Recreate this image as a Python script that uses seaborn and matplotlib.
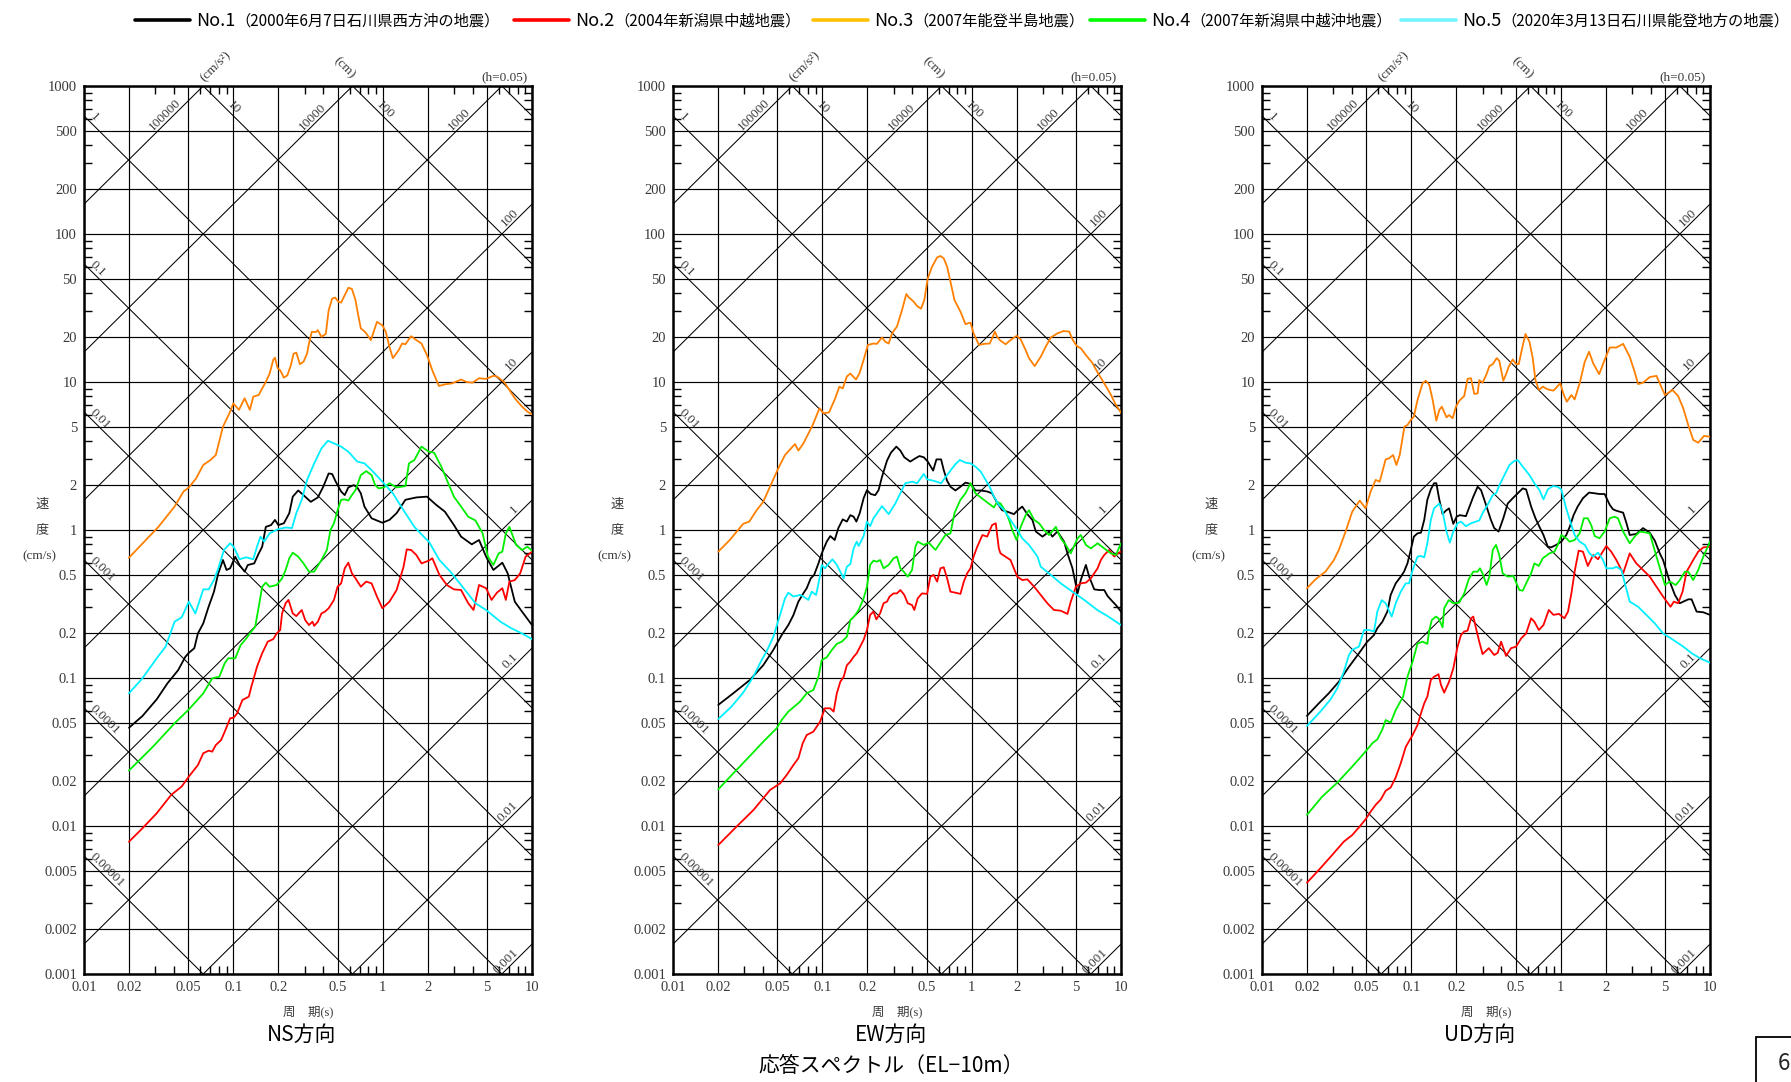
import numpy as np
import pandas as pd
import matplotlib
matplotlib.use("Agg")
import matplotlib.pyplot as plt
import seaborn as sns
from matplotlib.lines import Line2D
from matplotlib.patches import Rectangle
from matplotlib.ticker import FixedLocator, FixedFormatter, NullFormatter

# ---------------------------------------------------------------------------
# Response spectra (period [s], pseudo velocity [cm/s]), h = 0.05
# ---------------------------------------------------------------------------
EVENTS = ["No.1", "No.2", "No.3", "No.4", "No.5"]
EVENT_NOTES = ["（2000年6月7日石川県西方沖の地震）", "（2004年新潟県中越地震）",
               "（2007年能登半島地震）", "（2007年新潟県中越沖地震）",
               "（2020年3月13日石川県能登地方の地震）"]
CURVE_COLORS = ["#000000", "#ff0000", "#ff8000", "#00ee00", "#00f0ff"]
LEGEND_COLORS = ["#000000", "#ff0000", "#ffc000", "#00ff00", "#70f4ff"]

NS_NO1 = [(0.02, 0.0461), (0.0246, 0.0553), (0.0307, 0.0718), (0.0362, 0.092), (0.0427, 0.113),
          (0.0477, 0.139), (0.0504, 0.148), (0.0548, 0.159), (0.0579, 0.200), (0.0629, 0.234),
          (0.0683, 0.303), (0.0742, 0.383), (0.0793, 0.510), (0.0852, 0.627), (0.090, 0.537),
          (0.0952, 0.551), (0.103, 0.660), (0.110, 0.580), (0.119, 0.523), (0.125, 0.580),
          (0.138, 0.595), (0.148, 0.695), (0.156, 0.771), (0.165, 1.05), (0.179, 1.08),
          (0.190, 1.17), (0.200, 1.08), (0.218, 1.11), (0.237, 1.30), (0.250, 1.68),
          (0.272, 1.85), (0.295, 1.72), (0.330, 1.55), (0.368, 1.66), (0.400, 1.96),
          (0.435, 2.41), (0.459, 2.39), (0.485, 2.12), (0.527, 1.82), (0.557, 1.72),
          (0.589, 1.94), (0.640, 2.01), (0.676, 1.94), (0.714, 1.77), (0.755, 1.44),
          (0.843, 1.20), (0.995, 1.12), (1.11, 1.17), (1.24, 1.30), (1.42, 1.60),
          (1.68, 1.66), (1.98, 1.68), (2.28, 1.48), (2.61, 1.33), (3.00, 1.08),
          (3.35, 0.902), (3.95, 0.800), (4.42, 0.856), (4.93, 0.660), (5.51, 0.537),
          (6.33, 0.601), (6.87, 0.510), (7.67, 0.328), (8.57, 0.281), (10.0, 0.228)]
NS_NO2 = [(0.02, 0.00783), (0.0246, 0.00964), (0.0307, 0.0122), (0.0383, 0.0162), (0.0451, 0.0185),
          (0.0504, 0.0216), (0.0579, 0.0258), (0.0629, 0.0310), (0.0683, 0.0323), (0.0722, 0.0318),
          (0.0763, 0.0352), (0.0828, 0.0381), (0.0876, 0.0434), (0.0952, 0.0534), (0.1005, 0.0539),
          (0.106, 0.0577), (0.115, 0.0710), (0.127, 0.0748), (0.132, 0.0874), (0.136, 0.0968),
          (0.144, 0.119), (0.156, 0.147), (0.170, 0.176), (0.185, 0.183), (0.195, 0.200),
          (0.206, 0.211), (0.212, 0.273), (0.224, 0.320), (0.234, 0.337), (0.250, 0.273),
          (0.264, 0.262), (0.287, 0.288), (0.303, 0.246), (0.321, 0.228), (0.339, 0.240),
          (0.348, 0.225), (0.368, 0.240), (0.389, 0.273), (0.411, 0.281), (0.435, 0.296),
          (0.472, 0.337), (0.499, 0.414), (0.527, 0.436), (0.557, 0.551), (0.589, 0.601),
          (0.622, 0.510), (0.658, 0.471), (0.714, 0.414), (0.776, 0.448), (0.843, 0.436),
          (0.916, 0.355), (0.995, 0.296), (1.11, 0.328), (1.24, 0.393), (1.38, 0.565),
          (1.45, 0.740), (1.55, 0.733), (1.68, 0.678), (1.82, 0.595), (2.04, 0.621),
          (2.15, 0.644), (2.40, 0.497), (2.69, 0.425), (3.00, 0.397), (3.35, 0.393),
          (3.74, 0.320), (4.06, 0.288), (4.42, 0.425), (4.93, 0.404), (5.36, 0.337),
          (5.82, 0.377), (6.33, 0.404), (6.68, 0.337), (7.06, 0.448), (7.67, 0.459),
          (8.34, 0.510), (9.06, 0.660), (10.0, 0.714)]
NS_NO3 = [(0.02, 0.65), (0.0315, 1.05), (0.0404, 1.44), (0.0464, 1.82), (0.0504, 1.94),
          (0.0563, 2.23), (0.0629, 2.75), (0.0702, 2.97), (0.0763, 3.21), (0.0852, 4.99),
          (0.0952, 6.3), (0.1, 7.18), (0.109, 6.48), (0.119, 7.76), (0.129, 6.48),
          (0.136, 7.96), (0.148, 8.17), (0.156, 9.06), (0.165, 10.0), (0.175, 11.4),
          (0.185, 14.1), (0.19, 14.6), (0.198, 12.4), (0.206, 12.0), (0.218, 10.7),
          (0.23, 11.1), (0.243, 13.0), (0.253, 15.5), (0.264, 15.8), (0.279, 13.2),
          (0.295, 13.7), (0.312, 15.6), (0.321, 18.2), (0.335, 21.8), (0.358, 21.8),
          (0.368, 22.4), (0.389, 20.2), (0.416, 21.1), (0.435, 30.6), (0.459, 36.6),
          (0.48, 37.2), (0.507, 34.8), (0.527, 34.4), (0.557, 38.6), (0.589, 43.3),
          (0.622, 42.6), (0.658, 35.7), (0.676, 30.6), (0.714, 23.0), (0.763, 21.8),
          (0.834, 19.2), (0.916, 25.5), (0.995, 24.2), (1.05, 21.8), (1.11, 17.3),
          (1.17, 14.5), (1.28, 16.4), (1.35, 18.2), (1.42, 18.0), (1.55, 20.4),
          (1.68, 19.2), (1.82, 18.2), (1.98, 15.2), (2.15, 12.0), (2.38, 9.40),
          (2.61, 9.64), (2.92, 9.79), (3.35, 10.4), (3.64, 10.0), (4.0, 9.90),
          (4.42, 10.6), (4.93, 10.5), (5.51, 11.0), (5.82, 10.9), (6.5, 10.0),
          (7.06, 8.83), (7.67, 7.76), (8.57, 6.82), (9.31, 6.31), (10.0, 6.05)]
NS_NO4 = [(0.02, 0.0237), (0.029, 0.0344), (0.0404, 0.0494), (0.0504, 0.0614), (0.0629, 0.0787),
          (0.0722, 0.0995), (0.0806, 0.102), (0.0876, 0.126), (0.0925, 0.136), (0.103, 0.136),
          (0.112, 0.167), (0.122, 0.185), (0.129, 0.200), (0.140, 0.222), (0.148, 0.303),
          (0.156, 0.414), (0.165, 0.441), (0.175, 0.414), (0.195, 0.425), (0.212, 0.471),
          (0.224, 0.537), (0.237, 0.644), (0.250, 0.703), (0.272, 0.660), (0.295, 0.595),
          (0.321, 0.523), (0.348, 0.523), (0.389, 0.627), (0.423, 0.733), (0.447, 1.0),
          (0.472, 1.11), (0.499, 1.36), (0.527, 1.60), (0.557, 1.61), (0.589, 1.58),
          (0.622, 1.72), (0.658, 1.86), (0.714, 2.35), (0.776, 2.50), (0.843, 2.35),
          (0.891, 2.01), (0.941, 1.91), (1.02, 1.94), (1.11, 2.07), (1.24, 1.94),
          (1.42, 1.98), (1.50, 2.82), (1.63, 2.97), (1.82, 3.66), (2.04, 3.38),
          (2.21, 3.33), (2.47, 2.68), (2.69, 2.18), (3.00, 1.68), (3.35, 1.44),
          (3.74, 1.23), (4.18, 1.16), (4.67, 0.950), (5.07, 0.660), (5.51, 0.580),
          (5.98, 0.695), (6.33, 0.714), (6.68, 0.950), (7.06, 1.05), (7.83, 0.792),
          (8.57, 0.733), (9.31, 0.771), (10.0, 0.725)]
NS_NO5 = [(0.02, 0.0788), (0.0246, 0.0995), (0.0307, 0.136), (0.0352, 0.163), (0.0404, 0.240),
          (0.0451, 0.257), (0.0504, 0.328), (0.0557, 0.273), (0.0629, 0.397), (0.0683, 0.397),
          (0.0742, 0.459), (0.0793, 0.551), (0.0866, 0.733), (0.0952, 0.813), (0.1005, 0.771),
          (0.110, 0.634), (0.122, 0.654), (0.136, 0.634), (0.144, 0.771), (0.152, 0.902),
          (0.161, 0.834), (0.175, 0.950), (0.198, 1.01), (0.224, 1.04), (0.247, 1.03),
          (0.264, 1.30), (0.287, 1.60), (0.312, 2.18), (0.348, 2.82), (0.389, 3.56),
          (0.430, 4.01), (0.472, 3.85), (0.527, 3.66), (0.589, 3.38), (0.676, 2.90),
          (0.755, 2.82), (0.843, 2.54), (0.995, 2.12), (1.17, 1.77), (1.38, 1.36),
          (1.63, 1.05), (1.93, 0.879), (2.04, 0.834), (2.40, 0.627), (2.84, 0.523),
          (3.35, 0.425), (4.18, 0.320), (4.93, 0.288), (6.15, 0.240), (7.26, 0.217),
          (8.57, 0.200), (10.0, 0.183)]

EW_NO1 = [(0.0201, 0.0658), (0.0253, 0.0788), (0.0327, 0.0969), (0.0402, 0.122), (0.047, 0.155),
          (0.0534, 0.195), (0.0592, 0.228), (0.064, 0.266), (0.0691, 0.328), (0.0747, 0.374),
          (0.0786, 0.404), (0.0836, 0.471), (0.0881, 0.497), (0.0942, 0.595), (0.0991, 0.695),
          (0.107, 0.834), (0.113, 0.910), (0.121, 0.856), (0.128, 1.03), (0.137, 1.18),
          (0.146, 1.14), (0.154, 1.26), (0.162, 1.23), (0.169, 1.14), (0.178, 1.30),
          (0.189, 1.64), (0.199, 1.86), (0.211, 1.75), (0.226, 1.72), (0.238, 1.86),
          (0.251, 2.29), (0.271, 2.94), (0.288, 3.33), (0.313, 3.66), (0.333, 3.44),
          (0.354, 3.10), (0.388, 2.90), (0.420, 3.05), (0.447, 3.16), (0.478, 3.10),
          (0.508, 2.90), (0.552, 2.52), (0.581, 3.00), (0.624, 3.00), (0.650, 2.54),
          (0.685, 2.15), (0.721, 1.96), (0.779, 1.85), (0.841, 1.96), (0.909, 2.09),
          (0.982, 2.05), (1.06, 1.85), (1.15, 1.85), (1.27, 1.82), (1.37, 1.77),
          (1.48, 1.53), (1.60, 1.36), (1.73, 1.33), (1.92, 1.28), (2.02, 1.35),
          (2.18, 1.44), (2.36, 1.28), (2.55, 1.17), (2.69, 0.976), (2.98, 0.902),
          (3.30, 0.976), (3.47, 0.902), (3.75, 0.976), (4.16, 0.834), (4.38, 0.695),
          (4.73, 0.551), (5.12, 0.373), (5.38, 0.459), (5.82, 0.581), (6.12, 0.484),
          (6.62, 0.397), (7.15, 0.393), (7.72, 0.393), (8.13, 0.358), (8.79, 0.328),
          (9.25, 0.311), (10.0, 0.281)]
EW_NO2 = [(0.0201, 0.00744), (0.0266, 0.00989), (0.0345, 0.0128), (0.0402, 0.0154), (0.0446, 0.0175),
          (0.0521, 0.0194), (0.0577, 0.0221), (0.064, 0.0258), (0.0691, 0.0287), (0.0739, 0.0362),
          (0.0786, 0.0412), (0.0871, 0.0434), (0.0966, 0.0507), (0.104, 0.0624), (0.113, 0.0624),
          (0.119, 0.0593), (0.125, 0.0788), (0.132, 0.0944), (0.139, 0.102), (0.146, 0.122),
          (0.154, 0.129), (0.162, 0.139), (0.170, 0.147), (0.189, 0.181), (0.199, 0.211),
          (0.209, 0.267), (0.220, 0.281), (0.230, 0.249), (0.244, 0.274), (0.257, 0.320),
          (0.271, 0.328), (0.282, 0.355), (0.300, 0.373), (0.316, 0.373), (0.333, 0.393),
          (0.354, 0.364), (0.373, 0.320), (0.399, 0.311), (0.413, 0.288), (0.435, 0.345),
          (0.465, 0.373), (0.503, 0.370), (0.529, 0.484), (0.557, 0.497), (0.587, 0.448),
          (0.618, 0.551), (0.650, 0.560), (0.685, 0.471), (0.721, 0.383), (0.779, 0.377),
          (0.841, 0.370), (0.886, 0.448), (0.933, 0.510), (0.982, 0.551), (1.03, 0.661),
          (1.09, 0.771), (1.18, 0.925), (1.27, 0.902), (1.37, 1.08), (1.45, 1.11),
          (1.52, 0.751), (1.56, 0.695), (1.82, 0.627), (2.02, 0.484), (2.18, 0.459),
          (2.36, 0.464), (2.62, 0.414), (2.90, 0.364), (3.21, 0.320), (3.56, 0.288),
          (3.95, 0.285), (4.38, 0.271), (4.61, 0.328), (4.99, 0.414), (5.38, 0.436),
          (5.82, 0.441), (6.28, 0.471), (6.97, 0.551), (7.33, 0.627), (7.72, 0.678),
          (8.34, 0.733), (9.02, 0.661), (9.49, 0.695), (10.0, 0.714)]
EW_NO3 = [(0.0201, 0.714), (0.024, 0.856), (0.0295, 1.10), (0.0324, 1.14), (0.0363, 1.36),
          (0.0402, 1.55), (0.0446, 1.96), (0.0507, 2.61), (0.0562, 3.21), (0.0656, 3.81),
          (0.0691, 3.44), (0.0747, 3.85), (0.0862, 5.12), (0.0908, 5.83), (0.0957, 6.64),
          (0.102, 6.14), (0.111, 6.24), (0.122, 7.76), (0.130, 9.30), (0.137, 9.06),
          (0.146, 10.9), (0.154, 11.4), (0.168, 10.4), (0.177, 11.4), (0.189, 14.1),
          (0.202, 17.8), (0.220, 18.2), (0.232, 18.1), (0.251, 20.0), (0.264, 18.7),
          (0.278, 18.2), (0.293, 21.3), (0.316, 23.7), (0.341, 30.4), (0.365, 39.3),
          (0.379, 37.4), (0.409, 34.9), (0.431, 32.6), (0.458, 31.3), (0.482, 35.8),
          (0.508, 50.1), (0.543, 60.1), (0.587, 69.5), (0.618, 71.0), (0.650, 68.5),
          (0.685, 60.1), (0.721, 47.6), (0.767, 35.8), (0.841, 29.9), (0.909, 24.6),
          (0.982, 25.2), (1.03, 21.3), (1.12, 17.8), (1.21, 18.1), (1.32, 18.2),
          (1.37, 19.7), (1.43, 21.9), (1.48, 20.2), (1.56, 19.0), (1.69, 18.0),
          (1.82, 19.2), (2.00, 20.5), (2.13, 19.4), (2.30, 16.4), (2.42, 14.5),
          (2.64, 12.8), (2.90, 14.8), (3.13, 17.3), (3.39, 20.0), (3.75, 21.3),
          (4.12, 22.1), (4.50, 21.9), (4.73, 19.4), (5.06, 17.5), (5.38, 16.9),
          (5.82, 15.2), (6.45, 13.4), (6.97, 11.6), (7.72, 9.80), (8.57, 8.17),
          (9.25, 7.00), (10.0, 6.21)]
EW_NO4 = [(0.0201, 0.0177), (0.0266, 0.0239), (0.0327, 0.0297), (0.0402, 0.0371), (0.0494, 0.0457),
          (0.0534, 0.052), (0.0592, 0.0593), (0.0709, 0.0692), (0.0786, 0.0788), (0.0871, 0.083),
          (0.0942, 0.102), (0.0991, 0.132), (0.107, 0.138), (0.116, 0.155), (0.125, 0.170),
          (0.135, 0.176), (0.146, 0.190), (0.154, 0.246), (0.166, 0.266), (0.175, 0.288),
          (0.189, 0.345), (0.199, 0.414), (0.209, 0.581), (0.220, 0.621), (0.232, 0.611),
          (0.244, 0.627), (0.257, 0.551), (0.278, 0.581), (0.300, 0.644), (0.316, 0.661),
          (0.333, 0.551), (0.351, 0.523), (0.373, 0.484), (0.399, 0.537), (0.420, 0.771),
          (0.435, 0.834), (0.478, 0.793), (0.516, 0.821), (0.572, 0.733), (0.667, 0.925),
          (0.721, 0.949), (0.767, 1.30), (0.841, 1.60), (0.909, 1.77), (0.982, 2.07),
          (1.06, 1.77), (1.15, 1.66), (1.30, 1.51), (1.41, 1.42), (1.48, 1.55),
          (1.56, 1.51), (1.69, 1.33), (1.78, 1.17), (1.87, 1.0), (2.0, 0.856),
          (2.13, 1.05), (2.30, 1.26), (2.42, 1.36), (2.62, 1.17), (2.83, 1.11),
          (3.05, 1.0), (3.30, 0.925), (3.66, 1.05), (3.95, 0.879), (4.27, 0.793),
          (4.61, 0.695), (5.12, 0.879), (5.38, 0.925), (5.82, 0.793), (6.28, 0.751),
          (6.97, 0.813), (7.72, 0.751), (8.57, 0.695), (9.25, 0.678), (10.0, 0.813)]
EW_NO5 = [(0.0201, 0.0528), (0.0246, 0.0640), (0.0295, 0.0796), (0.0345, 0.102), (0.0392, 0.132),
          (0.0423, 0.151), (0.0470, 0.190), (0.0521, 0.267), (0.0562, 0.345), (0.0592, 0.377),
          (0.0640, 0.355), (0.0709, 0.364), (0.0747, 0.355), (0.0806, 0.337), (0.0849, 0.383),
          (0.0908, 0.364), (0.0957, 0.471), (0.0991, 0.581), (0.104, 0.551), (0.113, 0.611),
          (0.117, 0.634), (0.125, 0.581), (0.132, 0.522), (0.139, 0.471), (0.146, 0.565),
          (0.154, 0.589), (0.162, 0.751), (0.170, 0.834), (0.175, 0.780), (0.189, 0.910),
          (0.199, 1.14), (0.209, 1.06), (0.220, 1.20), (0.251, 1.45), (0.278, 1.28),
          (0.308, 1.51), (0.333, 1.77), (0.359, 2.07), (0.399, 2.12), (0.431, 2.07),
          (0.478, 2.39), (0.503, 2.20), (0.557, 2.15), (0.624, 2.07), (0.667, 2.27),
          (0.721, 2.52), (0.779, 2.79), (0.833, 2.97), (0.909, 2.85), (0.982, 2.82),
          (1.06, 2.68), (1.15, 2.48), (1.24, 2.18), (1.32, 1.96), (1.41, 1.68),
          (1.52, 1.48), (1.65, 1.36), (1.82, 1.17), (2.02, 1.00), (2.18, 0.879),
          (2.42, 0.793), (2.76, 0.661), (2.90, 0.565), (3.39, 0.497), (3.95, 0.436),
          (4.73, 0.383), (5.67, 0.337), (6.97, 0.287), (8.13, 0.262), (10.0, 0.228)]

UD_NO1 = [(0.0200, 0.0555), (0.0240, 0.0674), (0.0280, 0.0788), (0.0327, 0.0944), (0.0382, 0.119),
          (0.0446, 0.147), (0.0507, 0.176), (0.0562, 0.195), (0.0592, 0.217), (0.0640, 0.240),
          (0.0691, 0.281), (0.0727, 0.364), (0.0786, 0.436), (0.0849, 0.484), (0.0894, 0.523),
          (0.0942, 0.595), (0.0991, 0.733), (0.104, 0.902), (0.110, 0.949), (0.116, 0.959),
          (0.122, 1.17), (0.128, 1.60), (0.135, 1.88), (0.142, 2.07), (0.147, 2.07),
          (0.154, 1.60), (0.162, 1.28), (0.170, 1.35), (0.179, 1.40), (0.191, 1.10),
          (0.201, 1.23), (0.211, 1.26), (0.232, 1.24), (0.244, 1.42), (0.260, 1.68),
          (0.278, 1.96), (0.293, 1.86), (0.316, 1.48), (0.341, 1.17), (0.359, 1.03),
          (0.384, 0.976), (0.413, 1.20), (0.442, 1.51), (0.478, 1.64), (0.516, 1.77),
          (0.557, 1.91), (0.587, 1.88), (0.634, 1.44), (0.678, 1.20), (0.721, 1.05),
          (0.767, 0.925), (0.820, 0.771), (0.863, 0.763), (0.933, 0.793), (1.01, 0.834),
          (1.09, 0.925), (1.15, 1.05), (1.22, 1.26), (1.30, 1.44), (1.41, 1.64),
          (1.55, 1.79), (1.69, 1.77), (1.82, 1.75), (1.97, 1.75), (2.13, 1.48),
          (2.24, 1.38), (2.36, 1.35), (2.48, 1.33), (2.62, 1.31), (2.76, 1.11),
          (2.90, 0.925), (3.21, 0.940), (3.56, 1.03), (3.95, 0.959), (4.27, 0.847),
          (4.61, 0.695), (4.85, 0.627), (5.33, 0.459), (5.82, 0.364), (6.28, 0.320),
          (6.62, 0.328), (7.15, 0.340), (7.53, 0.340), (8.13, 0.281), (9.02, 0.278),
          (10.0, 0.267)]
UD_NO2 = [(0.0200, 0.00414), (0.0240, 0.00504), (0.0295, 0.00637), (0.0353, 0.00784), (0.0402, 0.00869),
          (0.0446, 0.00979), (0.0494, 0.0111), (0.0534, 0.0125), (0.0577, 0.0139), (0.0624, 0.0151),
          (0.0673, 0.0173), (0.0727, 0.0182), (0.0786, 0.0213), (0.0849, 0.0265), (0.0918, 0.0343),
          (0.102, 0.0412), (0.110, 0.0481), (0.116, 0.0577), (0.122, 0.0674), (0.128, 0.0748),
          (0.135, 0.0969), (0.142, 0.102), (0.152, 0.106), (0.158, 0.0897), (0.166, 0.0796),
          (0.179, 0.0944), (0.191, 0.116), (0.204, 0.163), (0.215, 0.195), (0.226, 0.206),
          (0.238, 0.209), (0.251, 0.253), (0.260, 0.260), (0.271, 0.217), (0.285, 0.176),
          (0.300, 0.145), (0.330, 0.159), (0.359, 0.143), (0.379, 0.148), (0.399, 0.176),
          (0.431, 0.141), (0.465, 0.159), (0.503, 0.163), (0.543, 0.185), (0.587, 0.200),
          (0.634, 0.253), (0.667, 0.240), (0.714, 0.211), (0.767, 0.228), (0.833, 0.288),
          (0.895, 0.267), (0.973, 0.271), (1.06, 0.253), (1.12, 0.281), (1.18, 0.373),
          (1.24, 0.523), (1.32, 0.725), (1.41, 0.714), (1.52, 0.571), (1.65, 0.678),
          (1.78, 0.634), (1.87, 0.688), (2.02, 0.780), (2.18, 0.714), (2.36, 0.627),
          (2.62, 0.509), (2.90, 0.695), (3.21, 0.595), (3.56, 0.537), (3.95, 0.484),
          (4.38, 0.414), (4.85, 0.355), (5.44, 0.303), (5.73, 0.328), (6.12, 0.320),
          (6.55, 0.383), (6.97, 0.523), (7.72, 0.627), (8.34, 0.714), (9.02, 0.763),
          (10.0, 0.771)]
UD_NO3 = [(0.0200, 0.404), (0.0228, 0.464), (0.0266, 0.523), (0.0303, 0.627), (0.0327, 0.733),
          (0.0363, 0.976), (0.0402, 1.33), (0.0451, 1.58), (0.0494, 1.40), (0.0534, 1.82),
          (0.0577, 2.18), (0.0614, 2.12), (0.0673, 3.00), (0.0709, 3.05), (0.0755, 3.21),
          (0.0794, 2.75), (0.0836, 3.21), (0.0899, 4.99), (0.0942, 5.12), (0.0991, 5.53),
          (0.104, 5.83), (0.110, 7.56), (0.119, 9.80), (0.125, 10.2), (0.132, 9.55),
          (0.139, 7.56), (0.147, 5.48), (0.154, 6.48), (0.160, 6.81), (0.172, 5.77),
          (0.179, 5.98), (0.189, 5.69), (0.199, 6.81), (0.209, 7.45), (0.226, 8.04),
          (0.238, 10.5), (0.251, 10.6), (0.264, 8.30), (0.278, 8.38), (0.285, 10.3),
          (0.300, 9.89), (0.319, 11.3), (0.333, 12.8), (0.351, 13.2), (0.373, 14.5),
          (0.388, 13.9), (0.413, 10.2), (0.431, 11.3), (0.449, 12.7), (0.478, 14.2),
          (0.503, 13.2), (0.524, 13.2), (0.552, 16.9), (0.581, 21.1), (0.618, 18.7),
          (0.650, 14.5), (0.678, 10.3), (0.714, 8.83), (0.759, 9.30), (0.820, 8.91),
          (0.895, 8.74), (0.993, 9.80), (1.05, 8.17), (1.10, 7.36), (1.18, 8.17),
          (1.24, 7.63), (1.34, 9.80), (1.45, 13.7), (1.55, 16.0), (1.65, 13.4),
          (1.81, 11.3), (1.97, 14.1), (2.13, 17.1), (2.36, 17.1), (2.62, 18.1),
          (2.90, 14.8), (3.13, 11.7), (3.30, 9.68), (3.56, 9.89), (3.95, 10.8),
          (4.38, 11.0), (4.61, 9.80), (4.99, 8.17), (5.61, 8.83), (6.12, 8.04),
          (6.62, 6.64), (7.15, 5.12), (7.72, 4.06), (8.34, 3.89), (9.11, 4.32),
          (10.0, 4.27)]
UD_NO4 = [(0.0200, 0.0119), (0.0253, 0.0158), (0.0319, 0.0196), (0.0402, 0.0252), (0.0482, 0.0310),
          (0.0548, 0.0362), (0.0592, 0.0385), (0.0640, 0.0450), (0.0673, 0.0520), (0.0727, 0.0499),
          (0.0786, 0.0608), (0.0881, 0.0748), (0.0942, 0.102), (0.102, 0.129), (0.110, 0.171),
          (0.119, 0.176), (0.128, 0.170), (0.132, 0.211), (0.137, 0.246), (0.146, 0.260),
          (0.152, 0.253), (0.162, 0.220), (0.166, 0.296), (0.178, 0.336), (0.191, 0.320),
          (0.209, 0.323), (0.226, 0.373), (0.242, 0.464), (0.260, 0.523), (0.278, 0.523),
          (0.288, 0.551), (0.300, 0.509), (0.319, 0.425), (0.333, 0.484), (0.351, 0.733),
          (0.369, 0.793), (0.388, 0.678), (0.409, 0.509), (0.442, 0.484), (0.482, 0.489),
          (0.529, 0.393), (0.557, 0.389), (0.602, 0.459), (0.634, 0.509), (0.667, 0.595),
          (0.714, 0.572), (0.759, 0.644), (0.841, 0.695), (0.909, 0.714), (0.957, 0.793),
          (1.01, 0.925), (1.09, 0.879), (1.15, 0.834), (1.24, 0.856), (1.34, 0.949),
          (1.43, 1.20), (1.52, 1.20), (1.60, 1.08), (1.69, 0.910), (1.82, 0.879),
          (1.97, 0.976), (2.13, 1.20), (2.30, 1.23), (2.42, 1.20), (2.62, 0.976),
          (2.90, 0.813), (3.13, 0.902), (3.39, 0.976), (3.66, 0.965), (3.95, 0.949),
          (4.16, 0.793), (4.38, 0.661), (4.99, 0.425), (5.38, 0.448), (5.90, 0.425),
          (6.28, 0.459), (6.79, 0.523), (7.15, 0.523), (7.72, 0.459), (8.34, 0.537),
          (9.02, 0.661), (10.0, 0.834)]
UD_NO5 = [(0.0200, 0.0474), (0.0246, 0.0593), (0.0288, 0.0717), (0.0319, 0.0851), (0.0353, 0.110),
          (0.0382, 0.143), (0.0402, 0.155), (0.0446, 0.163), (0.0482, 0.211), (0.0521, 0.211),
          (0.0562, 0.206), (0.0592, 0.281), (0.0633, 0.336), (0.0673, 0.320), (0.0739, 0.260),
          (0.0786, 0.320), (0.0849, 0.383), (0.0918, 0.436), (0.0966, 0.436), (0.102, 0.537),
          (0.110, 0.661), (0.116, 0.667), (0.122, 0.653), (0.128, 0.813), (0.135, 1.17),
          (0.142, 1.40), (0.154, 1.51), (0.162, 1.33), (0.172, 0.976), (0.181, 0.821),
          (0.191, 0.976), (0.204, 1.11), (0.215, 1.14), (0.232, 1.06), (0.251, 1.11),
          (0.271, 1.14), (0.285, 1.16), (0.300, 1.30), (0.324, 1.48), (0.351, 1.72),
          (0.369, 1.77), (0.393, 2.05), (0.420, 2.35), (0.454, 2.75), (0.490, 2.93),
          (0.516, 2.97), (0.557, 2.68), (0.618, 2.35), (0.667, 2.07), (0.721, 1.86),
          (0.767, 1.61), (0.820, 1.88), (0.886, 1.98), (0.957, 1.96), (1.01, 1.88),
          (1.08, 1.44), (1.16, 1.14), (1.24, 0.925), (1.34, 0.834), (1.45, 0.793),
          (1.56, 0.695), (1.65, 0.661), (1.78, 0.703), (1.92, 0.627), (2.02, 0.551),
          (2.24, 0.551), (2.36, 0.565), (2.55, 0.537), (2.69, 0.436), (2.90, 0.328),
          (3.30, 0.303), (3.75, 0.267), (4.27, 0.234), (4.85, 0.200), (5.67, 0.181),
          (6.62, 0.163), (7.53, 0.147), (8.57, 0.136), (10.0, 0.127)]

PANEL_TITLES = ["NS方向", "EW方向", "UD方向"]
PANEL_SPECTRA = [[NS_NO1, NS_NO2, NS_NO3, NS_NO4, NS_NO5],
                 [EW_NO1, EW_NO2, EW_NO3, EW_NO4, EW_NO5],
                 [UD_NO1, UD_NO2, UD_NO3, UD_NO4, UD_NO5]]

# Tripartite scales
X_TICKS = [0.01, 0.02, 0.05, 0.1, 0.2, 0.5, 1, 2, 5, 10]
X_TICK_LABELS = ["0.01", "0.02", "0.05", "0.1", "0.2", "0.5", "1", "2", "5", "10"]
Y_TICKS = [0.001, 0.002, 0.005, 0.01, 0.02, 0.05, 0.1, 0.2, 0.5, 1, 2, 5,
           10, 20, 50, 100, 200, 500, 1000]
Y_TICK_LABELS = ["0.001", "0.002", "0.005", "0.01", "0.02", "0.05", "0.1", "0.2", "0.5",
                 "1", "2", "5", "10", "20", "50", "100", "200", "500", "1000"]
ACC_LINES = [0.001, 0.01, 0.1, 1, 10, 100, 1000, 10000, 100000]        # cm/s^2
DISP_LINES = [0.00001, 0.0001, 0.001, 0.01, 0.1, 1, 10, 100, 1000]     # cm
ACC_TOP_LABELS = ["100000", "10000", "1000"]
ACC_RIGHT_LABELS = ["100", "10", "1", "0.1", "0.01", "0.001"]
DISP_LEFT_LABELS = ["1", "0.1", "0.01", "0.001", "0.0001", "0.00001"]
DISP_TOP_LABELS = ["10", "100"]

# ---------------------------------------------------------------------------
sns.set_theme(style="white")
SERIF = ["Liberation Serif", "Noto Sans CJK JP"]
CJK = ["Noto Sans CJK JP", "DejaVu Sans"]
plt.rcParams["font.family"] = SERIF
plt.rcParams["axes.unicode_minus"] = False

W, H = 1791, 1082
fig = plt.figure(figsize=(W / 100, H / 100), dpi=100)
fig.patch.set_facecolor("white")


def fx(px):
    return px / W


def fy(py):
    return 1 - py / H


AX_TOP, AX_BOT, AX_W = 86, 974, 448
AX_LEFTS = [84, 673, 1262]
YLAB_X = [42, 617, 1211]
LABEL_GRAY = "#3a3a3a"

minor_x = [m * d for d in (0.01, 0.1, 1) for m in (3, 4, 6, 7, 8, 9)]
minor_y = [m * d for d in (0.001, 0.01, 0.1, 1, 10, 100) for m in (3, 4, 6, 7, 8, 9)]
T_EDGE = np.array([0.01, 10.0])

for p, left in enumerate(AX_LEFTS):
    ax = fig.add_axes([fx(left), fy(AX_BOT), AX_W / W, (AX_BOT - AX_TOP) / H])
    ax.set_xscale("log")
    ax.set_yscale("log")
    ax.set_xlim(0.01, 10)
    ax.set_ylim(0.001, 1000)

    # grid and ticks
    ax.xaxis.set_major_locator(FixedLocator(X_TICKS))
    ax.xaxis.set_major_formatter(FixedFormatter(X_TICK_LABELS))
    ax.yaxis.set_major_locator(FixedLocator(Y_TICKS))
    ax.yaxis.set_major_formatter(FixedFormatter(Y_TICK_LABELS))
    ax.xaxis.set_minor_locator(FixedLocator(minor_x))
    ax.yaxis.set_minor_locator(FixedLocator(minor_y))
    ax.xaxis.set_minor_formatter(NullFormatter())
    ax.yaxis.set_minor_formatter(NullFormatter())
    ax.grid(True, which="major", color="black", lw=0.85, zorder=0.5)
    ax.tick_params(which="major", length=0, pad=5, labelsize=10.5, labelcolor=LABEL_GRAY)
    ax.tick_params(which="minor", direction="in", length=6, width=1.0, color="black",
                   top=True, right=True, bottom=True, left=True)
    for lab in ax.get_xticklabels() + ax.get_yticklabels():
        lab.set_family(SERIF)
    for s in ax.spines.values():
        s.set_color("black")
        s.set_linewidth(1.8)
    ax.set_xlabel("")
    ax.set_ylabel("")

    # constant acceleration / displacement lines
    for a in ACC_LINES:
        ax.plot(T_EDGE, a * T_EDGE / (2 * np.pi), color="black", lw=0.75, zorder=1)
    for d in DISP_LINES:
        ax.plot(T_EDGE, 2 * np.pi * d / T_EDGE, color="black", lw=0.75, zorder=1)

    # spectra
    frames = []
    for ev, pts in zip(EVENTS, PANEL_SPECTRA[p]):
        df = pd.DataFrame(pts, columns=["period", "sv"])
        df["event"] = ev
        frames.append(df)
    data = pd.concat(frames, ignore_index=True)
    sns.lineplot(data=data, x="period", y="sv", hue="event", hue_order=EVENTS,
                 palette=CURVE_COLORS, estimator=None, sort=False, legend=False,
                 lw=1.3, ax=ax, zorder=3)
    ax.set_xlim(0.01, 10)
    ax.set_ylim(0.001, 1000)
    ax.set_xlabel("")
    ax.set_ylabel("")

    # labels on the diagonal lines
    p0 = ax.transData.transform((0.1, 0.1))
    p1 = ax.transData.transform((1.0, 1.0))
    ang = np.degrees(np.arctan2(p1[1] - p0[1], p1[0] - p0[0]))
    dkw = dict(fontsize=9.5, color=LABEL_GRAY, rotation_mode="anchor", va="bottom", zorder=4)
    for lab in DISP_LEFT_LABELS:
        d = float(lab)
        t0 = 0.0106
        ax.text(t0, 2 * np.pi * d / t0, lab, rotation=-ang, ha="left", **dkw)
    for lab, t0 in zip(DISP_TOP_LABELS, [0.087, 0.87]):
        d = float(lab)
        ax.text(t0, 2 * np.pi * d / t0, lab, rotation=-ang, ha="left", **dkw)
    for lab, t0 in zip(ACC_TOP_LABELS, [0.030, 0.30, 3.0]):
        a = float(lab)
        ax.text(t0, a * t0 / (2 * np.pi), lab, rotation=ang, ha="left", **dkw)
    for lab in ACC_RIGHT_LABELS:
        a = float(lab)
        t1 = 8.4
        ax.text(t1, a * t1 / (2 * np.pi), lab, rotation=ang, ha="right", **dkw)

    # unit notes above the frame
    fig.text(fx(left + 132), fy(67), "(cm/s²)", rotation=45, ha="center", va="center",
             fontsize=9.5, color=LABEL_GRAY)
    fig.text(fx(left + 260), fy(68), "(cm)", rotation=-45, ha="center", va="center",
             fontsize=9.5, color=LABEL_GRAY)
    fig.text(fx(left + AX_W - 4), fy(83), "(h=0.05)", ha="right", va="bottom",
             fontsize=9.5, color=LABEL_GRAY)

    # axis captions
    yx = YLAB_X[p]
    fig.text(fx(yx), fy(504), "速", ha="center", va="center", fontsize=9.5,
             color=LABEL_GRAY, family=CJK)
    fig.text(fx(yx), fy(530), "度", ha="center", va="center", fontsize=9.5,
             color=LABEL_GRAY, family=CJK)
    fig.text(fx(yx - 3), fy(556), "(cm/s)", ha="center", va="center", fontsize=9.5,
             color=LABEL_GRAY)
    fig.text(fx(left + AX_W / 2), fy(1012), "周　期(s)", ha="center", va="center",
             fontsize=9, color=LABEL_GRAY)
    fig.text(fx(left + AX_W / 2 - 6), fy(1035), PANEL_TITLES[p], ha="center", va="center",
             fontsize=15, color="black", family=CJK)

fig.text(fx(891), fy(1066), "応答スペクトル（EL−10m）", ha="center", va="center",
         fontsize=15, color="black", family=CJK)

# legend row
renderer = fig.canvas.get_renderer()
LEG_X = [135, 514, 813, 1090, 1401]
LEG_Y = 19.5
for x0, ev, note, col in zip(LEG_X, EVENTS, EVENT_NOTES, LEGEND_COLORS):
    fig.add_artist(Line2D([fx(x0), fx(x0 + 55)], [fy(LEG_Y), fy(LEG_Y)], color=col, lw=2.6))
    t = fig.text(fx(x0 + 61), fy(LEG_Y + 6), ev, ha="left", va="baseline", fontsize=13,
                 color="black", family=CJK)
    bb = t.get_window_extent(renderer)
    fig.text(bb.x1 / W, fy(LEG_Y + 6), note, ha="left", va="baseline", fontsize=11,
             color="black", family=CJK)

# page number box in the lower right corner
fig.add_artist(Rectangle((fx(1756), fy(1100)), 0.1, (1100 - 1037) / H,
                         transform=fig.transFigure, fill=False, lw=1.3, ec="black"))
fig.text(fx(1778), fy(1063), "6", ha="left", va="center", fontsize=16, family=CJK)

fig.savefig("out.png", dpi=100, facecolor="white")
